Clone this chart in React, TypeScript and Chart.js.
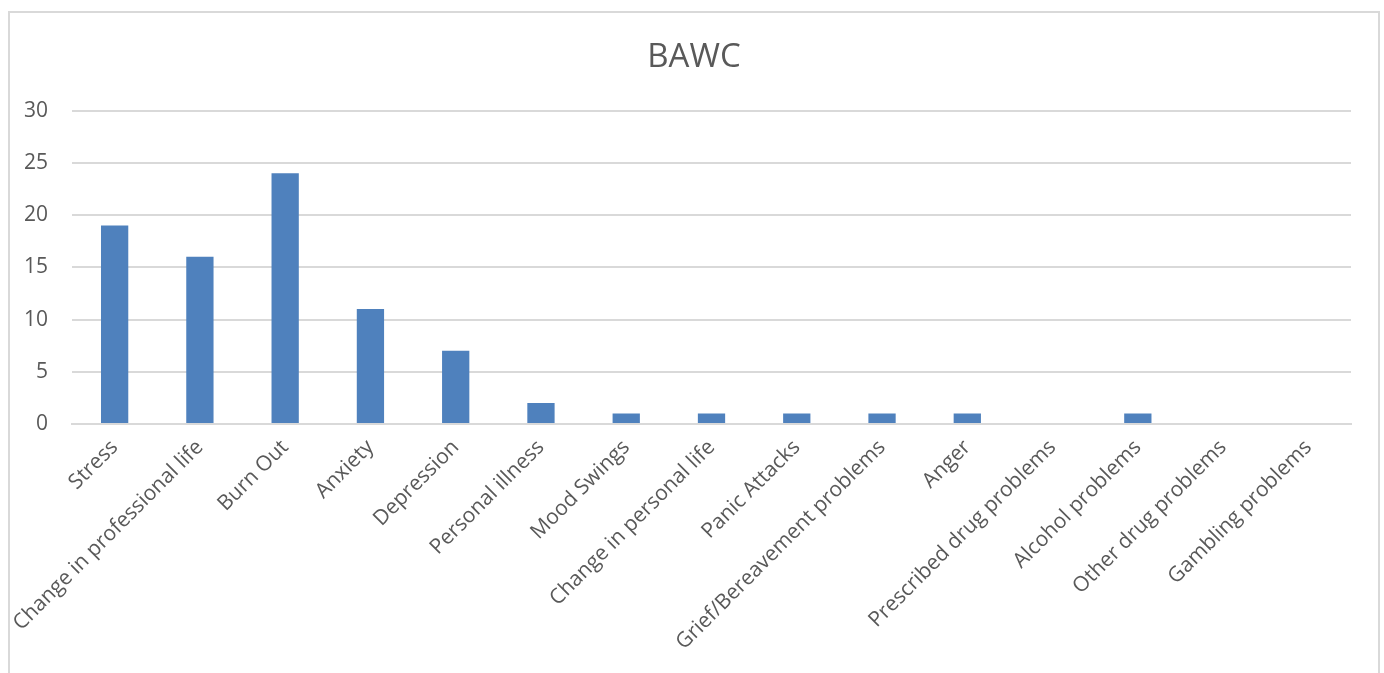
import React, { useEffect, useRef } from "react";
import { Chart, registerables } from "chart.js";

Chart.register(...registerables);

const categories: string[] = [
  "Stress",
  "Change in professional life",
  "Burn Out",
  "Anxiety",
  "Depression",
  "Personal illness",
  "Mood Swings",
  "Change in personal life",
  "Panic Attacks",
  "Grief/Bereavement problems",
  "Anger",
  "Prescribed drug problems",
  "Alcohol problems",
  "Other drug problems",
  "Gambling problems",
];

const counts: number[] = [19, 16, 24, 11, 7, 2, 1, 1, 1, 1, 1, 0, 1, 0, 0];

const yTicks: number[] = [0, 5, 10, 15, 20, 25, 30];

const chartTitle = "BAWC";

const TEXT = "#595959";
const GRID = "#d9d9d9";
const BAR = "#4F81BD";
const FONT = "'Open Sans', sans-serif";

export default function App() {
  const canvasRef = useRef<HTMLCanvasElement | null>(null);

  useEffect(() => {
    const canvas = canvasRef.current;
    if (!canvas) return;
    const chart = new Chart(canvas, {
      type: "bar",
      data: {
        labels: categories,
        datasets: [
          {
            label: chartTitle,
            data: counts,
            backgroundColor: BAR,
            borderWidth: 0,
            barPercentage: 0.32,
            categoryPercentage: 1,
          },
        ],
      },
      options: {
        animation: false,
        responsive: false,
        maintainAspectRatio: false,
        layout: { padding: 0 },
        plugins: {
          legend: { display: false },
          tooltip: { enabled: false },
          title: {
            display: true,
            text: chartTitle,
            color: TEXT,
            font: { family: FONT, size: 33, weight: "normal" },
            padding: { top: 25, bottom: 33 },
          },
        },
        scales: {
          x: {
            offset: true,
            grid: { display: false, drawTicks: false },
            border: { display: true, color: GRID, width: 2 },
            ticks: {
              color: TEXT,
              font: { family: FONT, size: 21 },
              maxRotation: 45,
              minRotation: 45,
              autoSkip: false,
              padding: 11,
            },
            afterFit: (scale: any) => {
              scale.height = 249;
            },
          },
          y: {
            min: 0,
            max: 30,
            afterBuildTicks: (scale: any) => {
              scale.ticks = yTicks.map((v) => ({ value: v }));
            },
            grid: { color: GRID, lineWidth: 2, drawTicks: false },
            border: { display: false },
            ticks: {
              color: TEXT,
              font: { family: FONT, size: 21 },
              padding: 24,
            },
            afterFit: (scale: any) => {
              scale.width = 62;
            },
          },
          // empty right-hand margin so the plot ends short of the frame
          yRight: {
            position: "right",
            min: 0,
            max: 30,
            grid: { display: false, drawTicks: false },
            border: { display: false },
            ticks: { display: false },
            afterFit: (scale: any) => {
              scale.width = 27;
            },
          },
        },
      },
    });
    return () => chart.destroy();
  }, []);

  return (
    <div
      style={{
        position: "absolute",
        left: 8,
        top: 11,
        width: 1368,
        height: 662,
        border: `2px solid ${GRID}`,
        borderBottom: "none",
        background: "#fff",
      }}
    >
      <canvas ref={canvasRef} width={1368} height={660} style={{ display: "block" }} />
    </div>
  );
}
